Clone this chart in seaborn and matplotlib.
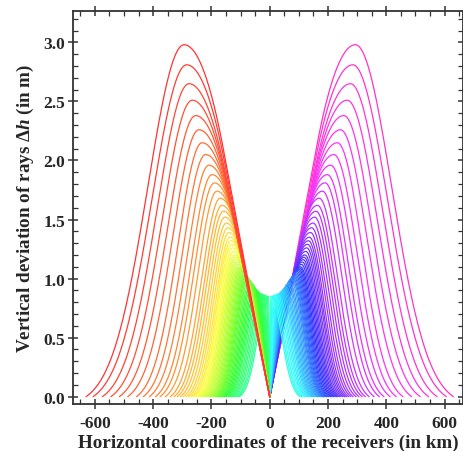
import numpy as np
import pandas as pd
import matplotlib
matplotlib.use("Agg")
import matplotlib.pyplot as plt
from matplotlib.colors import hsv_to_rgb
from matplotlib.ticker import MultipleLocator
import seaborn as sns

# Left family of rays, outer -> inner (the right family is its mirror image)
# peak height of each curve (m)
peak_h = [2.98, 2.81, 2.65, 2.51, 2.38, 2.26, 2.15, 2.05, 1.96, 1.88,
          1.81, 1.74, 1.68, 1.62, 1.57, 1.52, 1.47, 1.43, 1.39, 1.35,
          1.32, 1.29, 1.26, 1.23, 1.20, 1.18, 1.16, 1.14, 1.12, 1.10,
          1.09, 1.08, 1.07, 1.06, 1.05, 1.04, 1.03, 1.02, 1.01, 1.00,
          0.99, 0.97, 0.96, 0.95, 0.93, 0.92, 0.91, 0.90, 0.89, 0.88,
          0.87, 0.87, 0.86, 0.86, 0.85, 0.85]
# x position of each peak (km)
peak_x = [-294, -285, -277, -266, -254, -243, -232, -220, -209, -198,
          -190, -181, -170, -164, -159, -154, -149, -144, -140, -136,
          -133, -130, -127, -124, -121, -118, -115, -112, -109, -106,
          -103, -100, -97, -94, -91, -88, -85, -82, -79, -76,
          -72, -68, -64, -60, -56, -52, -48, -44, -40, -35,
          -30, -25, -20, -14, -9, -4]
# where each curve leaves the axis (km); all curves end at x = 0
foot_x = [-630, -606, -574, -545, -516, -487, -457, -434, -413, -392,
          -376, -358, -341, -328, -317, -306, -296, -286, -278, -270,
          -263, -257, -251, -245, -239, -234, -229, -224, -219, -214,
          -209, -204, -200, -196, -192, -188, -185, -182, -179, -176,
          -172, -168, -164, -160, -156, -152, -148, -144, -140, -135,
          -130, -125, -120, -114, -109, -104]

x_ticks = [-600, -400, -200, 0, 200, 400, 600]
y_ticks = [0.0, 0.5, 1.0, 1.5, 2.0, 2.5, 3.0]

n = len(peak_h)
hue_left = np.linspace(0.0, 0.42, n)    # red -> green
hue_right = np.linspace(0.88, 0.48, n)  # magenta -> cyan


def ray(x0, xp, h):
    # rising side
    xa = np.linspace(x0, xp, 160)
    w = (xa - x0) / (xp - x0)
    s = 0.37
    e0 = np.exp(-0.5 / s**2)
    ya = h * (np.exp(-0.5 * ((1 - w) / s) ** 2) - e0) / (1 - e0)
    # falling side, nearly straight into the origin
    xb = np.linspace(xp, 0, 160)[1:]
    v = (xb - xp) / (0 - xp)
    k = 0.46
    m = 1 / (1 - k / 2)
    yb = h * np.where(v < k, 1 - m * v**2 / (2 * k), 1 - m * k / 2 - m * (v - k))
    return np.concatenate([xa, xb]), np.concatenate([ya, yb])


def light(hue, mix=0.2):
    c = hsv_to_rgb([hue, 1, 1])
    return tuple(c * (1 - mix) + mix)


frames = []
palette = {}
for i in range(n):
    xs, ys = ray(foot_x[i], peak_x[i], peak_h[i])
    frames.append(pd.DataFrame({"x": xs, "y": ys, "ray": f"L{i:02d}"}))
    frames.append(pd.DataFrame({"x": -xs, "y": ys, "ray": f"R{i:02d}"}))
    palette[f"L{i:02d}"] = light(hue_left[i])
    palette[f"R{i:02d}"] = light(hue_right[i])
df = pd.concat(frames, ignore_index=True)

# draw right outer first, left outer last (on top)
order = [f"R{i:02d}" for i in range(n)] + [f"L{i:02d}" for i in range(n - 1, -1, -1)]

sns.set_theme(style="ticks")
plt.rcParams["font.family"] = ["Liberation Serif", "DejaVu Serif"]
plt.rcParams["font.weight"] = "bold"
plt.rcParams["axes.unicode_minus"] = False
plt.rcParams["mathtext.fontset"] = "custom"
plt.rcParams["mathtext.it"] = "Liberation Serif:italic:bold"
plt.rcParams["mathtext.rm"] = "Liberation Serif:bold"

fig = plt.figure(figsize=(4.64, 4.52), dpi=100)
ax = fig.add_axes([72.7 / 464, 1 - 405 / 452, (463 - 72.7) / 464, (405 - 11.7) / 452])

sns.lineplot(data=df, x="x", y="y", hue="ray", hue_order=order, palette=palette,
             estimator=None, legend=False, linewidth=0.9, ax=ax)

ax.set_xlim(-676, 663)
ax.set_ylim(-0.062, 3.268)
ax.set_xticks(x_ticks)
ax.set_yticks(y_ticks)
ax.set_xticklabels([str(t) for t in x_ticks])
ax.set_yticklabels([f"{t:.1f}" for t in y_ticks])
ax.xaxis.set_minor_locator(MultipleLocator(50))
ax.yaxis.set_minor_locator(MultipleLocator(0.1))
ax.tick_params(which="major", direction="inout", length=7, width=1.1, color="#333333",
               labelsize=12.5, top=True, right=True, pad=2)
ax.tick_params(axis="x", which="major", pad=4.5)
ax.tick_params(which="minor", direction="in", length=3.5, width=0.9, color="#333333",
               top=True, right=True)
for sp in ax.spines.values():
    sp.set_color("#333333")
    sp.set_linewidth(1.3)

ax.set_xlabel("Horizontal coordinates of the receivers (in km)", fontsize=13.8,
              fontweight="bold", labelpad=2)
ax.set_ylabel(r"Vertical deviation of rays $\mathit{\Delta h}$ (in m)", fontsize=13.8,
              fontweight="bold", labelpad=5)

fig.savefig("out.png", dpi=100)
